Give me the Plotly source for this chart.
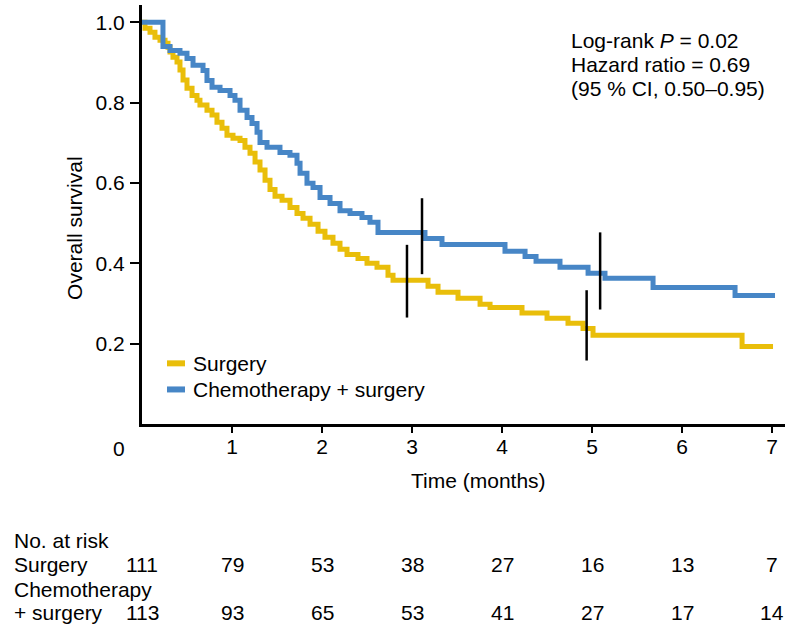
import plotly.graph_objects as go

# Kaplan-Meier step data: event times (years on the axis) and survival after each step
surgery_t = [0.0, 0.033, 0.089, 0.144, 0.2, 0.256, 0.289, 0.311, 0.344, 0.389, 0.422, 0.456,
             0.5, 0.556, 0.611, 0.644, 0.722, 0.778, 0.833, 0.889, 0.944, 1.011, 1.089,
             1.144, 1.2, 1.256, 1.311, 1.367, 1.422, 1.478, 1.556, 1.644, 1.722, 1.789,
             1.867, 1.956, 2.033, 2.122, 2.2, 2.278, 2.4, 2.5, 2.611, 2.733, 2.789, 3.178,
             3.289, 3.511, 3.756, 3.867, 4.222, 4.5, 4.733, 4.9, 5.011, 6.667, 7.011]
surgery_s = [1.0, 0.985, 0.975, 0.963, 0.955, 0.948, 0.938, 0.926, 0.913, 0.901, 0.881, 0.856,
             0.836, 0.818, 0.806, 0.794, 0.781, 0.769, 0.751, 0.736, 0.719, 0.711, 0.706,
             0.689, 0.674, 0.652, 0.632, 0.607, 0.584, 0.567, 0.557, 0.539, 0.524, 0.512,
             0.497, 0.48, 0.465, 0.45, 0.435, 0.422, 0.412, 0.4, 0.39, 0.37, 0.358, 0.343,
             0.328, 0.313, 0.298, 0.29, 0.276, 0.263, 0.251, 0.238, 0.221, 0.193, 0.193]

chemo_t = [0.0, 0.233, 0.311, 0.422, 0.5, 0.567, 0.678, 0.722, 0.778, 0.867, 0.978, 1.033,
           1.089, 1.167, 1.222, 1.278, 1.311, 1.389, 1.533, 1.644, 1.722, 1.756, 1.833,
           1.9, 1.978, 2.089, 2.2, 2.311, 2.444, 2.533, 2.622, 3.144, 3.333, 4.033, 4.256,
           4.378, 4.644, 4.956, 5.144, 5.678, 6.589, 7.033]
chemo_s = [1.0, 0.94, 0.93, 0.923, 0.91, 0.893, 0.88, 0.855, 0.838, 0.83, 0.818, 0.806,
           0.781, 0.763, 0.748, 0.726, 0.701, 0.689, 0.676, 0.669, 0.649, 0.624, 0.599,
           0.589, 0.564, 0.549, 0.531, 0.524, 0.514, 0.502, 0.477, 0.462, 0.447, 0.43,
           0.417, 0.405, 0.39, 0.375, 0.363, 0.34, 0.32, 0.32]

# 3- and 5-year survival markers: x position, lower and upper end
marker_x = [2.944, 3.111, 4.94, 5.09]
marker_lo = [0.265, 0.373, 0.158, 0.285]
marker_hi = [0.446, 0.562, 0.333, 0.477]

# Number at risk table
risk_times = [0, 1, 2, 3, 4, 5, 6, 7]
risk_surgery = [111, 79, 53, 38, 27, 16, 13, 7]
risk_chemo = [113, 93, 65, 53, 41, 27, 17, 14]

x_ticks = [1, 2, 3, 4, 5, 6, 7]
y_ticks = [0.2, 0.4, 0.6, 0.8, 1.0]

YELLOW = "#E9BE0A"
BLUE = "#4786C6"
FONT = "Liberation Sans"
FS = 21

fig = go.Figure()
fig.add_trace(go.Scatter(x=surgery_t, y=surgery_s, mode="lines", line_shape="hv",
                         line=dict(color=YELLOW, width=5), name="Surgery", showlegend=False))
fig.add_trace(go.Scatter(x=chemo_t, y=chemo_s, mode="lines", line_shape="hv",
                         line=dict(color=BLUE, width=5), name="Chemotherapy + surgery",
                         showlegend=False))

mx, my = [], []
for x, lo, hi in zip(marker_x, marker_lo, marker_hi):
    mx += [x, x, None]
    my += [lo, hi, None]
fig.add_trace(go.Scatter(x=mx, y=my, mode="lines", line=dict(color="black", width=2.5),
                         showlegend=False, hoverinfo="skip"))

ann = []
# statistics box
stats = ["Log-rank <i>P</i> = 0.02", "Hazard ratio = 0.69", "(95 % CI, 0.50\u20130.95)"]
for i, s in enumerate(stats):
    ann.append(dict(x=4.745, y=0.955 - i * 0.06, xref="x", yref="y", text=s, showarrow=False,
                    xanchor="left", yanchor="middle", font=dict(size=FS)))

# legend
legend_items = [("Surgery", YELLOW, 0.151), ("Chemotherapy + surgery", BLUE, 0.086)]
shapes = []
for label, col, yy in legend_items:
    shapes.append(dict(type="line", xref="x", yref="y", x0=0.278, x1=0.478, y0=yy, y1=yy,
                       line=dict(color=col, width=6)))
    ann.append(dict(x=0.545, y=yy, xref="x", yref="y", text=label, showarrow=False,
                    xanchor="left", yanchor="middle", font=dict(size=FS)))

# origin label and axis titles
ann.append(dict(x=-0.0358, y=-0.0573, xref="paper", yref="paper", text="0", showarrow=False,
                xanchor="center", yanchor="middle", font=dict(size=FS)))
ann.append(dict(x=3.744, y=-0.1337, xref="x", yref="paper", text="Time (months)",
                showarrow=False, xanchor="center", yanchor="middle", font=dict(size=FS)))
ann.append(dict(x=-0.1042, y=0.468, xref="paper", yref="paper", text="Overall survival",
                textangle=-90, showarrow=False, xanchor="center", yanchor="middle",
                font=dict(size=FS)))

# number at risk table
row_labels = [("No. at risk", -0.277), ("Surgery", -0.3365), ("Chemotherapy", -0.396),
              ("+ surgery", -0.451)]
for label, yy in row_labels:
    ann.append(dict(x=-0.2022, y=yy, xref="paper", yref="paper", text=label, showarrow=False,
                    xanchor="left", yanchor="middle", font=dict(size=FS)))
for t, a, b in zip(risk_times, risk_surgery, risk_chemo):
    ann.append(dict(x=t, y=-0.3365, xref="x", yref="paper", text=str(a), showarrow=False,
                    xanchor="center", yanchor="middle", font=dict(size=FS)))
    ann.append(dict(x=t, y=-0.451, xref="x", yref="paper", text=str(b), showarrow=False,
                    xanchor="center", yanchor="middle", font=dict(size=FS)))

fig.update_layout(
    width=788, height=629,
    margin=dict(l=142, r=3, t=5, b=205),
    paper_bgcolor="white", plot_bgcolor="white",
    font=dict(family=FONT, size=FS, color="black"),
    annotations=ann, shapes=shapes,
    xaxis=dict(range=[0, 7.144], tickvals=x_ticks, ticks="outside", ticklen=6, tickwidth=2,
               tickcolor="black", showline=True, linecolor="black", linewidth=3,
               showgrid=False, zeroline=False, ticklabelstandoff=-4),
    yaxis=dict(range=[0, 1.043], tickvals=y_ticks, tickformat=".1f", ticks="outside",
               ticklen=9, tickwidth=2, tickcolor="black", showline=True, linecolor="black",
               linewidth=3, showgrid=False, zeroline=False, ticklabelstandoff=1),
)

fig.write_html("out.html")
